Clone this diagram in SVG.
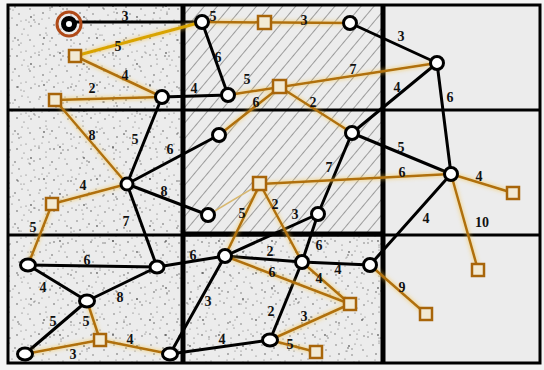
<svg xmlns="http://www.w3.org/2000/svg" width="544" height="370" viewBox="0 0 544 370">
<defs>
<style>
.frame{fill:none;stroke:#000;stroke-width:3}
.thick{stroke:#000;stroke-width:5}
.grid{stroke:#000;stroke-width:3}
.bl{stroke:#000;stroke-width:3;fill:none;stroke-linecap:round}
.or{stroke:#b0700c;stroke-width:2.5;fill:none}
.yl{stroke:#d9a400;stroke-width:3;fill:none}
.faint{stroke:#d8b870;stroke-width:1.5;fill:none}
.nd{fill:#fff;stroke:#000;stroke-width:3}
.sq{fill:#f2ead4;stroke:#a8650a;stroke-width:2.5}
.lb{font-family:"Liberation Serif",serif;font-size:14px;font-weight:bold;fill:#111;text-anchor:middle}
</style>
<pattern id="hatch" width="10" height="10" patternUnits="userSpaceOnUse" patternTransform="rotate(40)">
<line x1="0" y1="0" x2="0" y2="10" stroke="#222" stroke-width="0.8"/>
</pattern>
<pattern id="spk" width="37" height="31" patternUnits="userSpaceOnUse">
<g fill="#222" opacity="0.7">
<circle cx="3" cy="4" r="0.7"/><circle cx="9" cy="2" r="0.6"/><circle cx="15" cy="7" r="0.8"/><circle cx="22" cy="3" r="0.6"/>
<circle cx="30" cy="9" r="0.7"/><circle cx="34" cy="15" r="0.6"/><circle cx="6" cy="13" r="0.8"/><circle cx="12" cy="18" r="0.6"/>
<circle cx="19" cy="14" r="0.7"/><circle cx="26" cy="20" r="0.6"/><circle cx="2" cy="24" r="0.7"/><circle cx="9" cy="28" r="0.6"/>
<circle cx="17" cy="25" r="0.8"/><circle cx="24" cy="29" r="0.6"/><circle cx="31" cy="26" r="0.7"/><circle cx="28" cy="4" r="0.5"/>
<circle cx="13" cy="10" r="0.5"/><circle cx="21" cy="21" r="0.5"/><circle cx="35" cy="22" r="0.6"/><circle cx="5" cy="19" r="0.5"/>
</g>
</pattern>
<pattern id="spk2" width="53" height="47" patternUnits="userSpaceOnUse">
<g fill="#111" opacity="0.6">
<circle cx="7" cy="6" r="0.9"/><circle cx="10" cy="9" r="0.7"/><circle cx="8" cy="12" r="0.6"/><circle cx="31" cy="17" r="0.9"/>
<circle cx="34" cy="20" r="0.7"/><circle cx="29" cy="22" r="0.6"/><circle cx="44" cy="38" r="0.9"/><circle cx="47" cy="35" r="0.6"/>
<circle cx="18" cy="40" r="0.8"/><circle cx="21" cy="43" r="0.6"/><circle cx="50" cy="8" r="0.7"/><circle cx="39" cy="5" r="0.6"/>
</g>
</pattern>
<filter id="glow" x="-10%" y="-10%" width="120%" height="120%">
<feGaussianBlur in="SourceAlpha" stdDeviation="2" result="b"/>
<feFlood flood-color="#f4c040" flood-opacity="0.85"/>
<feComposite in2="b" operator="in" result="g"/>
<feMerge><feMergeNode in="g"/><feMergeNode in="SourceGraphic"/></feMerge>
</filter>
</defs>

<rect width="544" height="370" fill="#f4f4f4"/>
<g id="background">
<rect x="8" y="5" width="532" height="358" fill="#ececec"/>
<rect x="8" y="5" width="175" height="358" fill="url(#spk)"/>
<rect x="8" y="5" width="175" height="358" fill="url(#spk2)"/>
<rect x="183" y="236" width="200" height="127" fill="url(#spk)"/>
<rect x="183" y="236" width="200" height="127" fill="url(#spk2)"/>
<rect x="183" y="5" width="200" height="230" fill="url(#hatch)"/>
<rect x="8" y="5" width="532" height="358" class="frame"/>
<line x1="8" y1="110" x2="540" y2="110" class="grid"/>
<line x1="8" y1="235" x2="540" y2="235" class="grid" stroke-width="4"/>
<line x1="183" y1="234" x2="383" y2="234" class="thick" stroke-width="6"/>
<line x1="183" y1="5" x2="183" y2="363" class="thick"/>
<line x1="383" y1="5" x2="383" y2="363" class="thick"/>
</g>

<g id="connectors">
<g id="black-edges">
<line class="bl" x1="68" y1="22" x2="202" y2="22"/>
<line class="bl" x1="202" y1="22" x2="228" y2="95"/>
<line class="bl" x1="350" y1="23" x2="437" y2="63"/>
<line class="bl" x1="162" y1="97" x2="228" y2="95"/>
<line class="bl" x1="437" y1="63" x2="352" y2="133"/>
<line class="bl" x1="437" y1="63" x2="451" y2="174"/>
<line class="bl" x1="352" y1="133" x2="451" y2="174"/>
<line class="bl" x1="352" y1="133" x2="318" y2="214"/>
<line class="bl" x1="451" y1="174" x2="370" y2="265"/>
<line class="bl" x1="162" y1="97" x2="127" y2="184"/>
<line class="bl" x1="127" y1="184" x2="219" y2="135"/>
<line class="bl" x1="127" y1="184" x2="208" y2="215"/>
<line class="bl" x1="127" y1="184" x2="157" y2="267"/>
<line class="bl" x1="318" y1="214" x2="225" y2="256"/>
<line class="bl" x1="318" y1="214" x2="302" y2="262"/>
<line class="bl" x1="28" y1="265" x2="157" y2="267"/>
<line class="bl" x1="28" y1="265" x2="87" y2="301"/>
<line class="bl" x1="157" y1="267" x2="87" y2="301"/>
<line class="bl" x1="87" y1="301" x2="25" y2="354"/>
<line class="bl" x1="157" y1="267" x2="225" y2="256"/>
<line class="bl" x1="225" y1="256" x2="302" y2="262"/>
<line class="bl" x1="302" y1="262" x2="370" y2="265"/>
<line class="bl" x1="225" y1="256" x2="170" y2="354"/>
<line class="bl" x1="302" y1="262" x2="270" y2="340"/>
<line class="bl" x1="170" y1="354" x2="270" y2="340"/>
</g>
<g id="orange-edges" filter="url(#glow)">
<line class="yl" x1="75" y1="56" x2="202" y2="22"/>
<line class="or" x1="75" y1="56" x2="162" y2="97"/>
<line class="or" x1="55" y1="100" x2="162" y2="97"/>
<line class="or" x1="55" y1="100" x2="127" y2="184"/>
<line class="or" x1="202" y1="22" x2="350" y2="23"/>
<line class="or" x1="228" y1="95" x2="437" y2="63"/>
<line class="or" x1="280" y1="87" x2="219" y2="135"/>
<line class="or" x1="280" y1="87" x2="352" y2="133"/>
<line class="or" x1="260" y1="184" x2="451" y2="174"/>
<line class="or" x1="260" y1="184" x2="302" y2="262"/>
<line class="or" x1="260" y1="184" x2="225" y2="256"/>
<line class="or" x1="52" y1="204" x2="127" y2="184"/>
<line class="or" x1="52" y1="204" x2="28" y2="265"/>
<line class="or" x1="451" y1="174" x2="513" y2="193"/>
<line class="or" x1="451" y1="174" x2="478" y2="270"/>
<line class="or" x1="370" y1="265" x2="426" y2="314"/>
<line class="or" x1="225" y1="256" x2="350" y2="304"/>
<line class="or" x1="302" y1="262" x2="350" y2="304"/>
<line class="or" x1="350" y1="304" x2="270" y2="340"/>
<line class="or" x1="270" y1="340" x2="316" y2="352"/>
<line class="or" x1="87" y1="301" x2="100" y2="340"/>
<line class="or" x1="100" y1="340" x2="25" y2="354"/>
<line class="or" x1="100" y1="340" x2="170" y2="354"/>
</g>
<line class="faint" x1="208" y1="215" x2="260" y2="184"/>
</g>

<g id="labels">
<text class="lb" x="125" y="21">3</text>
<text class="lb" x="218" y="62">6</text>
<text class="lb" x="401" y="41">3</text>
<text class="lb" x="194" y="93">4</text>
<text class="lb" x="397" y="92">4</text>
<text class="lb" x="450" y="102">6</text>
<text class="lb" x="401" y="152">5</text>
<text class="lb" x="329" y="172">7</text>
<text class="lb" x="426" y="223">4</text>
<text class="lb" x="135" y="144">5</text>
<text class="lb" x="170" y="154">6</text>
<text class="lb" x="164" y="196">8</text>
<text class="lb" x="126" y="226">7</text>
<text class="lb" x="295" y="219">3</text>
<text class="lb" x="319" y="250">6</text>
<text class="lb" x="87" y="265">6</text>
<text class="lb" x="43" y="292">4</text>
<text class="lb" x="120" y="302">8</text>
<text class="lb" x="53" y="326">5</text>
<text class="lb" x="193" y="260">6</text>
<text class="lb" x="270" y="256">2</text>
<text class="lb" x="338" y="274">4</text>
<text class="lb" x="208" y="306">3</text>
<text class="lb" x="271" y="316">2</text>
<text class="lb" x="222" y="344">4</text>
<text class="lb" x="118" y="51">5</text>
<text class="lb" x="125" y="80">4</text>
<text class="lb" x="92" y="93">2</text>
<text class="lb" x="92" y="140">8</text>
<text class="lb" x="213" y="21">5</text>
<text class="lb" x="304" y="25">3</text>
<text class="lb" x="247" y="84">5</text>
<text class="lb" x="353" y="74">7</text>
<text class="lb" x="256" y="107">6</text>
<text class="lb" x="313" y="107">2</text>
<text class="lb" x="402" y="177">6</text>
<text class="lb" x="275" y="209">2</text>
<text class="lb" x="242" y="218">5</text>
<text class="lb" x="83" y="190">4</text>
<text class="lb" x="33" y="232">5</text>
<text class="lb" x="479" y="181">4</text>
<text class="lb" x="482" y="227">10</text>
<text class="lb" x="402" y="292">9</text>
<text class="lb" x="272" y="277">6</text>
<text class="lb" x="319" y="283">4</text>
<text class="lb" x="304" y="321">3</text>
<text class="lb" x="290" y="349">5</text>
<text class="lb" x="86" y="326">5</text>
<text class="lb" x="73" y="359">3</text>
<text class="lb" x="130" y="344">4</text>
</g>

<g id="n1"><circle cx="69" cy="24" r="12" fill="none" stroke="#b04a18" stroke-width="3"/><circle cx="69" cy="24" r="5.5" fill="#fff" stroke="#000" stroke-width="5"/></g>
<g id="n2"><circle class="nd" cx="202" cy="22" r="6.5"/></g>
<g id="n3"><circle class="nd" cx="350" cy="23" r="6.5"/></g>
<g id="n4"><circle class="nd" cx="437" cy="63" r="6.5"/></g>
<g id="n5"><circle class="nd" cx="162" cy="97" r="6.5"/></g>
<g id="n6"><circle class="nd" cx="228" cy="95" r="6.5"/></g>
<g id="n7"><circle class="nd" cx="219" cy="135" r="6.5"/></g>
<g id="n8"><circle class="nd" cx="352" cy="133" r="6.5"/></g>
<g id="n9"><circle class="nd" cx="451" cy="174" r="6.5"/></g>
<g id="n10"><circle class="nd" cx="127" cy="184" r="6" fill="#ddd"/></g>
<g id="n11"><circle class="nd" cx="208" cy="215" r="6.5"/></g>
<g id="n12"><circle class="nd" cx="318" cy="214" r="6.5"/></g>
<g id="n13"><ellipse class="nd" cx="28" cy="265" rx="7.5" ry="6"/></g>
<g id="n14"><ellipse class="nd" cx="157" cy="267" rx="7" ry="6"/></g>
<g id="n15"><circle class="nd" cx="225" cy="256" r="6.5"/></g>
<g id="n16"><circle class="nd" cx="302" cy="262" r="6.5"/></g>
<g id="n17"><circle class="nd" cx="370" cy="265" r="6.5"/></g>
<g id="n18"><ellipse class="nd" cx="87" cy="301" rx="7.5" ry="6"/></g>
<g id="n19"><ellipse class="nd" cx="25" cy="354" rx="7.5" ry="6"/></g>
<g id="n20"><ellipse class="nd" cx="170" cy="354" rx="7.5" ry="6"/></g>
<g id="n21"><ellipse class="nd" cx="270" cy="340" rx="7.5" ry="6"/></g>

<g id="s1"><rect class="sq" x="69" y="50" width="12" height="12"/></g>
<g id="s2"><rect class="sq" x="49" y="94" width="12" height="12"/></g>
<g id="s3"><rect class="sq" x="258" y="16" width="13" height="13"/></g>
<g id="s4"><rect class="sq" x="273" y="80" width="13" height="13"/></g>
<g id="s5"><rect class="sq" x="253" y="177" width="13" height="13"/></g>
<g id="s6"><rect class="sq" x="46" y="198" width="12" height="12"/></g>
<g id="s7"><rect class="sq" x="507" y="187" width="12" height="12"/></g>
<g id="s8"><rect class="sq" x="472" y="264" width="12" height="12"/></g>
<g id="s9"><rect class="sq" x="420" y="308" width="12" height="12"/></g>
<g id="s10"><rect class="sq" x="344" y="298" width="12" height="12"/></g>
<g id="s11"><rect class="sq" x="94" y="334" width="12" height="12"/></g>
<g id="s12"><rect class="sq" x="310" y="346" width="12" height="12"/></g>
</svg>
